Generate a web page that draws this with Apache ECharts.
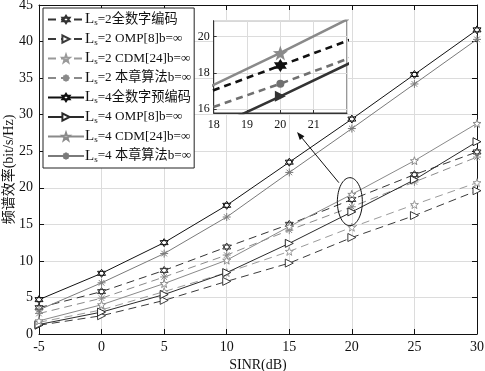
<!DOCTYPE html>
<html><head><meta charset="utf-8">
<script src="https://cdn.jsdelivr.net/npm/echarts@6/dist/echarts.min.js"></script>
<style>html,body{margin:0;padding:0;background:#fff}#c{width:485px;height:371px}</style>
</head><body><div id="c"></div>
<script>
// ---- data ----
const sinr = [-5, 0, 5, 10, 15, 20, 25, 30];
const xTicks = [-5, 0, 5, 10, 15, 20, 25, 30];
const yTicks = [0, 5, 10, 15, 20, 25, 30, 35, 40, 45];
const ls2Full = [3.6, 5.8, 8.7, 11.9, 15.0, 18.4, 21.8, 24.9];
const ls2Omp  = [1.2, 2.5, 4.6, 7.2, 9.7, 13.2, 16.2, 19.6];
const ls2Cdm  = [1.6, 3.3, 5.8, 8.4, 11.3, 14.6, 17.7, 20.7];
const ls2Ours = [2.8, 4.9, 7.8, 10.8, 14.2, 17.4, 20.8, 24.2];
const ls4Full = [4.7, 8.3, 12.5, 17.6, 23.5, 29.4, 35.5, 41.6];
const ls4Omp  = [1.3, 3.0, 5.4, 8.4, 12.4, 16.7, 21.1, 26.3];
const ls4Cdm  = [1.8, 4.0, 6.9, 10.1, 14.7, 19.1, 23.7, 28.8];
const ls4Ours = [3.3, 7.0, 11.0, 16.0, 22.1, 28.1, 34.2, 40.3];
const names = ['Ls=2全数字编码','Ls=2 OMP[8]b=∞','Ls=2 CDM[24]b=∞','Ls=2 本章算法b=∞',
               'Ls=4全数字预编码','Ls=4 OMP[8]b=∞','Ls=4 CDM[24]b=∞','Ls=4 本章算法b=∞'];

// ---- styles ----
const FONT = '"Liberation Serif","Noto Sans CJK SC",serif';
const HEX = 'path://M0,-10L8.66,5L-8.66,5Z M0,10L-8.66,-5L8.66,-5Z';
const TRI = 'path://M-6,-7L8,0L-6,7Z';
const STAR = 'path://M0,-10L2.35,-3.24L9.51,-3.09L3.8,1.24L5.88,8.09L0,4L-5.88,8.09L-3.8,1.24L-9.51,-3.09L-2.35,-3.24Z';
const AST = 'path://M0,-10L0,10M-10,0L10,0M-7,-7L7,7M-7,7L7,-7';
const pair = a => sinr.map((x, i) => [x, a[i]]);

function mk(name, arr, color, dashed, symbol, size) {
  return {
    name, type: 'line', data: pair(arr), symbol, symbolSize: size, showSymbol: true,
    xAxisIndex: 0, yAxisIndex: 0, z: 3,
    lineStyle: { color, width: 1, type: dashed ? [8, 5] : 'solid' },
    itemStyle: { color: '#fff', borderColor: color, borderWidth: 1 },
    emphasis: { disabled: true }, animation: false
  };
}
function mkIn(name, arr, color, dashed, symbol, size, z) {
  return {
    name, type: 'line', data: pair(arr), symbol, symbolSize: size, clip: true,
    xAxisIndex: 2, yAxisIndex: 2, z: z,
    lineStyle: { color, width: 2.6, type: dashed ? [7, 5] : 'solid' },
    itemStyle: { color, borderColor: color, borderWidth: 0 },
    emphasis: { disabled: true }, animation: false
  };
}

const richMap = {};
names.forEach(n => {
  const m = n.match(/^L(s)(.*)$/);
  richMap[n] = '{L|L}{s|s}{t|' + m[2] + '}';
});

const chart = echarts.init(document.getElementById('c'), null, { renderer: 'canvas' });
const gridLine = { show: true, lineStyle: { color: '#dcdcdc', width: 1 } };
const axLine = (c) => ({ show: true, onZero: false, lineStyle: { color: c, width: 1 } });
const option = {
  backgroundColor: '#fff',
  animation: false,
  grid: [
    { left: 39, right: 8, top: 5, bottom: 37, show: false, outerBoundsMode: 'none', containLabel: false },
    { left: 213.7, top: 20.7, width: 133.3, height: 92.3, show: true, backgroundColor: '#fff',
      borderColor: '#333', borderWidth: 1, z: 5, outerBoundsMode: 'none', containLabel: false }
  ],
  xAxis: [
    { type: 'value', gridIndex: 0, min: -5, max: 30, interval: 5, position: 'bottom',
      name: 'SINR(dB)', nameLocation: 'middle', nameGap: 24, nameMoveOverlap: false,
      nameTextStyle: { fontFamily: FONT, fontSize: 14, color: '#111' },
      axisLine: axLine('#111'),
      axisTick: { inside: true, length: 5, lineStyle: { color: '#111' } },
      axisLabel: { fontFamily: FONT, fontSize: 14, color: '#111', margin: 6 },
      splitLine: gridLine },
    { type: 'value', gridIndex: 0, min: -5, max: 30, interval: 5, position: 'top',
      axisLine: axLine('#111'),
      axisTick: { show: true, inside: true, length: 5, lineStyle: { color: '#111' } },
      axisLabel: { show: false }, splitLine: { show: false } },
    { type: 'value', gridIndex: 1, min: 18, max: 22, interval: 1, position: 'bottom', z: 6,
      axisLine: axLine('#333'),
      axisTick: { inside: true, length: 3, lineStyle: { color: '#333' } },
      axisLabel: { fontFamily: FONT, fontSize: 12, color: '#111', margin: 6, showMaxLabel: false },
      splitLine: { show: true, lineStyle: { color: '#dcdcdc' } } }
  ],
  yAxis: [
    { type: 'value', gridIndex: 0, min: 0, max: 45, interval: 5, position: 'left',
      name: '频谱效率(bit/s/Hz)', nameLocation: 'middle', nameGap: 23, nameMoveOverlap: false,
      nameTextStyle: { fontFamily: FONT, fontSize: 14, color: '#111' },
      axisLine: axLine('#111'),
      axisTick: { show: true, inside: true, length: 5, lineStyle: { color: '#111' } },
      axisLabel: { fontFamily: FONT, fontSize: 14, color: '#111', margin: 6 },
      splitLine: gridLine },
    { type: 'value', gridIndex: 0, min: 0, max: 45, interval: 5, position: 'right',
      axisLine: axLine('#111'),
      axisTick: { show: true, inside: true, length: 5, lineStyle: { color: '#111' } },
      axisLabel: { show: false }, splitLine: { show: false } },
    { type: 'value', gridIndex: 1, min: 15.78, max: 20.88, splitNumber: 3, position: 'left', z: 6,
      axisLine: axLine('#333'),
      axisTick: { show: true, inside: true, length: 3, lineStyle: { color: '#333' } },
      axisLabel: { fontFamily: FONT, fontSize: 12, color: '#111', margin: 4, showMinLabel: false, showMaxLabel: false },
      splitLine: { show: true, lineStyle: { color: '#dcdcdc' } } }
  ],
  legend: {
    data: names, orient: 'vertical', left: 43, top: 8, z: 10,
    backgroundColor: '#fff', borderColor: '#222', borderWidth: 1,
    padding: [4, 3, 4, 4], itemWidth: 36, itemHeight: 9, itemGap: 4,
    selectedMode: false,
    formatter: n => richMap[n],
    textStyle: {
      fontFamily: FONT, fontSize: 13.5, color: '#111', padding: [0, 0, 0, -4],
      rich: {
        L: { fontFamily: FONT, fontSize: 15, color: '#111' },
        s: { fontFamily: FONT, fontSize: 9, color: '#111', padding: [7, 0, 0, 0] },
        t: { fontFamily: FONT, fontSize: 13.2, color: '#111' }
      }
    }
  },
  series: [
    mk(names[0], ls2Full, '#333', true, HEX, 8),
    mk(names[1], ls2Omp, '#3a3a3a', true, TRI, 8),
    mk(names[2], ls2Cdm, '#9a9a9a', true, STAR, 8),
    mk(names[3], ls2Ours, '#8a8a8a', true, AST, 8),
    mk(names[4], ls4Full, '#111', false, HEX, 8),
    mk(names[5], ls4Omp, '#2a2a2a', false, TRI, 8),
    mk(names[6], ls4Cdm, '#8a8a8a', false, STAR, 8),
    mk(names[7], ls4Ours, '#7a7a7a', false, AST, 8),
    mkIn('inset-cdm4', ls4Cdm, '#8a8a8a', false, STAR, 15, 7),
    mkIn('inset-full2', ls2Full, '#111', true, HEX, 13, 7),
    mkIn('inset-ours2', ls2Ours, '#707070', true, 'circle', 8, 7),
    mkIn('inset-omp4', ls4Omp, '#333', false, TRI, 11, 7)
  ]
};
chart.setOption(option);

// annotation: ellipse around the SINR=20 cluster and arrow to the inset
const c = chart.convertToPixel({ xAxisIndex: 0, yAxisIndex: 0 }, [20, 18.1]);
const ex = c[0] - 2, ey = c[1];
const sx = ex - 11, sy = ey - 19, tx = 297, ty = 132;
const ang = Math.atan2(ty - sy, tx - sx);
const ah = 8, aw = 3;
const bx = tx - ah * Math.cos(ang), by = ty - ah * Math.sin(ang);
chart.setOption({
  graphic: [
    { type: 'ellipse', z: 20, shape: { cx: ex, cy: ey, rx: 12.5, ry: 24 },
      style: { fill: 'none', stroke: '#111', lineWidth: 1 } },
    { type: 'line', z: 20, shape: { x1: sx, y1: sy, x2: bx, y2: by },
      style: { stroke: '#111', lineWidth: 1 } },
    { type: 'polygon', z: 20, shape: { points: [[tx, ty],
        [bx + aw * Math.sin(ang), by - aw * Math.cos(ang)],
        [bx - aw * Math.sin(ang), by + aw * Math.cos(ang)]] },
      style: { fill: '#111' } }
  ]
});
</script></body></html>
